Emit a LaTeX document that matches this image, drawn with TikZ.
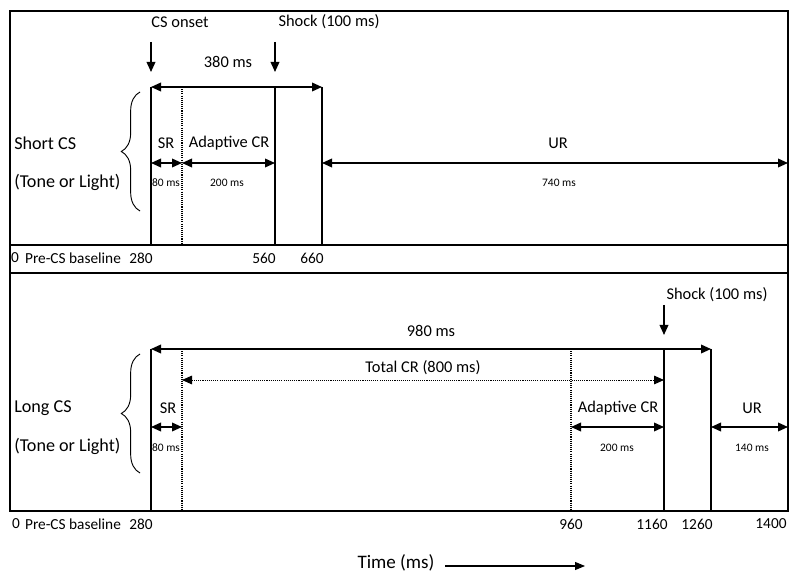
\documentclass[tikz,border=0pt]{standalone}
\usepackage{fontspec}
\setmainfont{Carlito}
\usetikzlibrary{arrows.meta,decorations.pathreplacing}
\begin{document}
\begin{tikzpicture}[x=0.75pt,y=-0.75pt,
  frame/.style={line width=1.4pt},
  bar/.style={line width=1.5pt},
  dotbar/.style={line width=1pt,dash pattern=on 0.8pt off 0.8pt},
  tip/.style={line width=1.1pt,-{Triangle[length=7.5pt,width=6.5pt]}},
  dbl/.style={line width=1.1pt,{Triangle[length=7.5pt,width=6.5pt]}-{Triangle[length=7.5pt,width=6.5pt]}},
  dotdbl/.style={line width=0.7pt,dash pattern=on 0.8pt off 0.8pt,{Triangle[length=7.5pt,width=6.5pt]}-{Triangle[length=7.5pt,width=6.5pt]}},
  brc/.style={decorate,decoration={brace,amplitude=14pt},line width=0.7pt},
  big/.style={font=\fontsize{13.6}{16}\selectfont,inner sep=0pt},
  mid/.style={font=\fontsize{12.3}{14}\selectfont,inner sep=0pt},
  axl/.style={font=\fontsize{11.5}{13}\selectfont,inner sep=0pt},
  sml/.style={font=\fontsize{8.6}{10}\selectfont,inner sep=0pt},
  tim/.style={font=\fontsize{14.3}{17}\selectfont,inner sep=0pt}]
\useasboundingbox (0,0) rectangle (800,577);

% frame
\coordinate (fTL) at (10,11);
\coordinate (fBR) at (788,511);
\draw[frame] (fTL) rectangle (fBR);
\coordinate (s1L) at (10,245); \coordinate (s1R) at (788,245);
\coordinate (s2L) at (10,273); \coordinate (s2R) at (788,273);
\draw[frame] (s1L) -- (s1R);
\draw[frame] (s2L) -- (s2R);

% ---------- top panel ----------
\node[mid] (cson) at (180,22) {CS onset};
\node[mid] (shk1) at (329,22) {Shock (100 ms)};
\coordinate (a1s) at (151,42); \coordinate (a1e) at (151,72);
\coordinate (a2s) at (275,42); \coordinate (a2e) at (275,72);
\draw[tip] (a1s) -- (a1e);
\draw[tip] (a2s) -- (a2e);
\node[mid] (t380) at (228,62) {380 ms};

\coordinate (T151) at (151,87); \coordinate (B151) at (151,245);
\coordinate (T182) at (182,87); \coordinate (B182) at (182,245);
\coordinate (T275) at (275,87); \coordinate (B275) at (275,245);
\coordinate (T322) at (322,87); \coordinate (B322) at (322,245);
\draw[bar] (T151) -- (B151);
\draw[dotbar] (T182) -- (B182);
\draw[bar] (T275) -- (B275);
\draw[bar] (T322) -- (B322);
\draw[dbl] (T151) -- (T322);

\node[mid] (sr1) at (166,143) {SR};
\node[mid] (acr1) at (229,143) {Adaptive CR};
\node[mid] (ur1) at (558,143) {UR};
\coordinate (m151) at (151,163); \coordinate (m182) at (182,163);
\coordinate (m275) at (275,163); \coordinate (m322) at (322,163);
\coordinate (m788) at (788,163);
\draw[dbl] (m151) -- (m182);
\draw[dbl] (m182) -- (m275);
\draw[dbl] (m322) -- (m788);
\node[sml] (d80a) at (166,183) {80 ms};
\node[sml] (d200a) at (227,183) {200 ms};
\node[sml] (d740) at (559,183) {740 ms};

\coordinate (br1b) at (140,211); \coordinate (br1t) at (140,92);
\draw[brc] (br1b) -- (br1t);
\node[big,anchor=west] (scs) at (14,143) {Short CS};
\node[big,anchor=west] (tol1) at (14,182) {(Tone or Light)};

\node[axl] (z1) at (15,258) {0};
\node[axl] (pre1) at (73,258) {Pre-CS baseline};
\node[axl] (n280a) at (141,258) {280};
\node[axl] (n560) at (264,258) {560};
\node[axl] (n660) at (312,258) {660};

% ---------- bottom panel ----------
\node[mid] (shk2) at (717,295) {Shock (100 ms)};
\coordinate (a3s) at (664,305); \coordinate (a3e) at (664,335);
\draw[tip] (a3s) -- (a3e);
\node[mid] (t980) at (431,331) {980 ms};

\coordinate (U151) at (151,349); \coordinate (L151) at (151,511);
\coordinate (U182) at (182,349); \coordinate (L182) at (182,511);
\coordinate (U571) at (571,349); \coordinate (L571) at (571,511);
\coordinate (U664) at (664,349); \coordinate (L664) at (664,511);
\coordinate (U711) at (711,349); \coordinate (L711) at (711,511);
\draw[bar] (U151) -- (L151);
\draw[dotbar] (U182) -- (L182);
\draw[dotbar] (U571) -- (L571);
\draw[bar] (U664) -- (L664);
\draw[bar] (U711) -- (L711);
\draw[dbl] (U151) -- (U711);

\node[mid] (tcr) at (423,368) {Total CR (800 ms)};
\coordinate (c182) at (182,380); \coordinate (c664) at (664,380);
\draw[dotdbl] (c182) -- (c664);

\node[mid] (sr2) at (168,408) {SR};
\node[mid] (acr2) at (618,408) {Adaptive CR};
\node[mid] (ur2) at (752,408) {UR};
\coordinate (k151) at (151,427); \coordinate (k182) at (182,427);
\coordinate (k571) at (571,427); \coordinate (k664) at (664,427);
\coordinate (k711) at (711,427); \coordinate (k788) at (788,427);
\draw[dbl] (k151) -- (k182);
\draw[dbl] (k571) -- (k664);
\draw[dbl] (k711) -- (k788);
\node[sml] (d80b) at (166,448) {80 ms};
\node[sml] (d200b) at (617,448) {200 ms};
\node[sml] (d140) at (752,448) {140 ms};

\coordinate (br2b) at (140,473); \coordinate (br2t) at (140,354);
\draw[brc] (br2b) -- (br2t);
\node[big,anchor=west] (lcs) at (14,408) {Long CS};
\node[big,anchor=west] (tol2) at (14,446) {(Tone or Light)};

\node[axl] (z2) at (16,524) {0};
\node[axl] (pre2) at (73,524) {Pre-CS baseline};
\node[axl] (n280b) at (141,524) {280};
\node[axl] (n960) at (571,524) {960};
\node[axl] (n1160) at (652,524) {1160};
\node[axl] (n1260) at (697,524) {1260};
\node[axl] (n1400) at (771,524) {1400};

% time axis
\node[tim] (time) at (396,563) {Time (ms)};
\coordinate (ts) at (445,566); \coordinate (te) at (585,566);
\draw[line width=0.8pt,-{Triangle[length=7.5pt,width=6pt]}] (ts) -- (te);
\end{tikzpicture}
\end{document}
